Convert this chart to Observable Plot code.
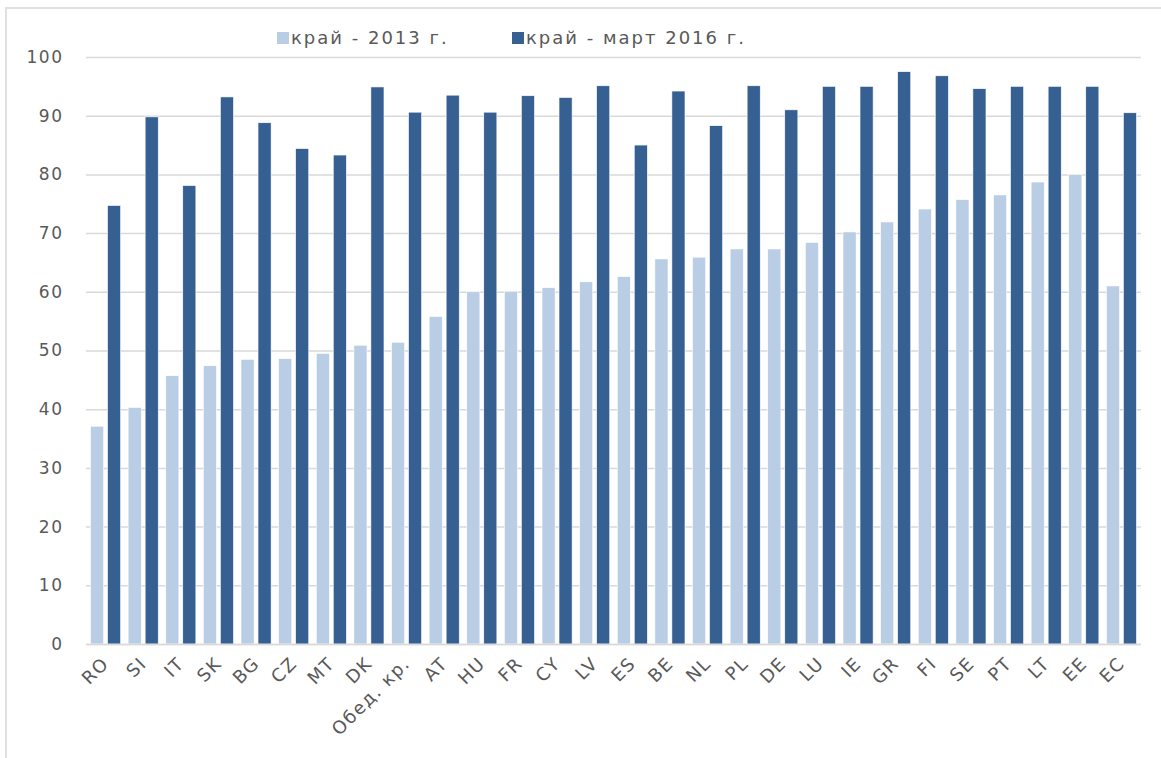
<!DOCTYPE html>
<html>
<head>
<meta charset="utf-8">
<script src="https://cdn.jsdelivr.net/npm/d3@7"></script>
<script src="https://cdn.jsdelivr.net/npm/@observablehq/plot@0.6"></script>
<style>
  body { margin: 0; background: #fff; font-family: "DejaVu Sans", Verdana, sans-serif; }
  #wrap { position: relative; width: 1161px; height: 758px; overflow: hidden; }
  #frame { position: absolute; left: 5px; top: 7px; right: -5px; bottom: -5px; border-top: 2px solid #e0e0e0; border-left: 2px solid #e0e0e0; }
  #legend { position: absolute; top: 27px; left: 0; width: 1161px; height: 30px; font-size: 18px; letter-spacing: 2px; color: #595959; }
  .item { position: absolute; top: 0; display: flex; align-items: center; white-space: pre; }
  .sw { width: 12px; height: 12px; margin-right: 2px; }
  #chart { position: absolute; left: 0; top: 0; }
  #chart svg text { letter-spacing: 1.5px; }
</style>
</head>
<body>
<div id="wrap">
  <div id="frame"></div>
  <div id="chart"></div>
  <div id="legend"></div>
</div>
<script>
const countries = ["RO","SI","IT","SK","BG","CZ","MT","DK","Обед. кр.","AT","HU","FR","CY","LV","ES","BE","NL","PL","DE","LU","IE","GR","FI","SE","PT","LT","EE","EC"];
const seriesNames = ["край - 2013 г.", "край - март 2016 г."];
const values2013 = [37.1,40.3,45.7,47.4,48.5,48.6,49.5,50.9,51.4,55.8,60.0,60.1,60.7,61.7,62.6,65.6,65.9,67.3,67.3,68.4,70.2,71.9,74.1,75.7,76.5,78.7,80.0,61.0];
const values2016 = [74.7,89.8,78.1,93.2,88.8,84.4,83.3,94.9,90.6,93.5,90.6,93.4,93.1,95.1,85.0,94.2,88.3,95.1,91.0,95.0,95.0,97.5,96.8,94.6,95.0,95.0,95.0,90.5];
const yTicks = [0,10,20,30,40,50,60,70,80,90,100];
const colors = ["#B9CDE5", "#376092"];

const d2013 = countries.map((c, i) => ({country: c, value: values2013[i]}));
const d2016 = countries.map((c, i) => ({country: c, value: values2016[i]}));

const chart = Plot.plot({
  width: 1161,
  height: 758,
  marginTop: 57,
  marginBottom: 114,
  marginLeft: 86,
  marginRight: 20,
  style: {fontFamily: "'DejaVu Sans', Verdana, sans-serif", fontSize: "17px", color: "#595959", background: "transparent"},
  x: {domain: countries, paddingInner: 0.2, paddingOuter: 0.12, round: false, label: null},
  y: {domain: [0, 100], ticks: yTicks, label: null},
  marks: [
    Plot.gridY(yTicks, {stroke: "#d9d9d9", strokeOpacity: 1, strokeWidth: 1.5}),
    Plot.barY(d2013, {x: "country", y: "value", fill: colors[0], stroke: "#ffffff", strokeWidth: 0.6, insetRight: 17}),
    Plot.barY(d2016, {x: "country", y: "value", fill: colors[1], stroke: "#ffffff", strokeWidth: 0.6, insetLeft: 17}),
    Plot.ruleY([0], {stroke: "#d9d9d9", strokeWidth: 1.5}),
    Plot.axisY({ticks: yTicks, tickSize: 0, tickPadding: 23, fontSize: 17, fill: "#595959", label: null}),
    Plot.axisX({tickSize: 0, tickRotate: -45, tickPadding: 16, fontSize: 18, fill: "#595959", label: null})
  ]
});
document.getElementById("chart").appendChild(chart);

const legend = document.getElementById("legend");
const positions = [277, 512];
seriesNames.forEach((s, i) => {
  const it = document.createElement("div");
  it.className = "item";
  it.style.left = positions[i] + "px";
  const sw = document.createElement("span");
  sw.className = "sw";
  sw.style.background = colors[i];
  const t = document.createElement("span");
  t.textContent = s;
  it.appendChild(sw);
  it.appendChild(t);
  legend.appendChild(it);
});
</script>
</body>
</html>
